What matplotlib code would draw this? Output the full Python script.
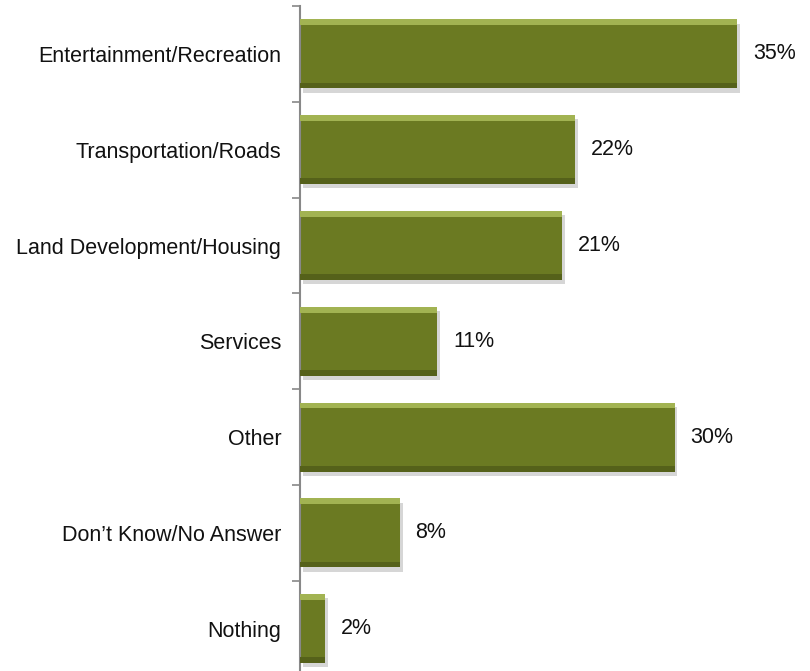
import matplotlib
matplotlib.use("Agg")
import matplotlib.pyplot as plt
import matplotlib.patheffects as pe
import numpy as np

categories = ["Entertainment/Recreation", "Transportation/Roads", "Land Development/Housing",
              "Services", "Other", "Don\u2019t Know/No Answer", "Nothing"]
values = [35, 22, 21, 11, 30, 8, 2]
value_labels = ["35%", "22%", "21%", "11%", "30%", "8%", "2%"]

plt.rcParams['font.family'] = ['Liberation Sans', 'DejaVu Sans']

fig = plt.figure(figsize=(8.10, 6.71), dpi=100)
ax = fig.add_axes([300 / 810, 0.0, 510 / 810, 1 - 6 / 671])

y = np.arange(len(categories))
h = 0.72
shadow = [pe.SimplePatchShadow(offset=(2, -3), shadow_rgbFace='#999999', alpha=0.4), pe.Normal()]
ax.barh(y, values, height=h, color='#6B7A22', edgecolor='none', path_effects=shadow, zorder=2)
# bevel highlights: light top edge, dark bottom edge
ax.barh(y - h / 2 + 0.03, values, height=0.06, color='#A2B352', edgecolor='none', zorder=3)
ax.barh(y + h / 2 - 0.03, values, height=0.06, color='#55611A', edgecolor='none', zorder=3)

for yi, v, lab in zip(y, values, value_labels):
    ax.text(v + 1.25, yi, lab, va='center', ha='left', fontsize=15.5, color='#111111')

ax.set_xlim(0, 510 / 12.49)
ax.set_ylim(-0.5 + 665 / 95.8, -0.5)
ax.set_yticks(y)
ax.set_yticklabels(categories, fontsize=15.5, color='#111111')
ax.set_yticks(np.arange(-0.5, 6.0, 1.0), minor=True)
ax.tick_params(axis='y', which='major', length=0, pad=13.5)
ax.tick_params(axis='y', which='minor', length=6, width=1.2, color='#888888')
ax.set_xticks([])
for s in ['top', 'right', 'bottom']:
    ax.spines[s].set_visible(False)
ax.spines['left'].set_color('#888888')
ax.spines['left'].set_linewidth(1.5)
ax.set_facecolor('none')

fig.savefig("out.png", dpi=100)
